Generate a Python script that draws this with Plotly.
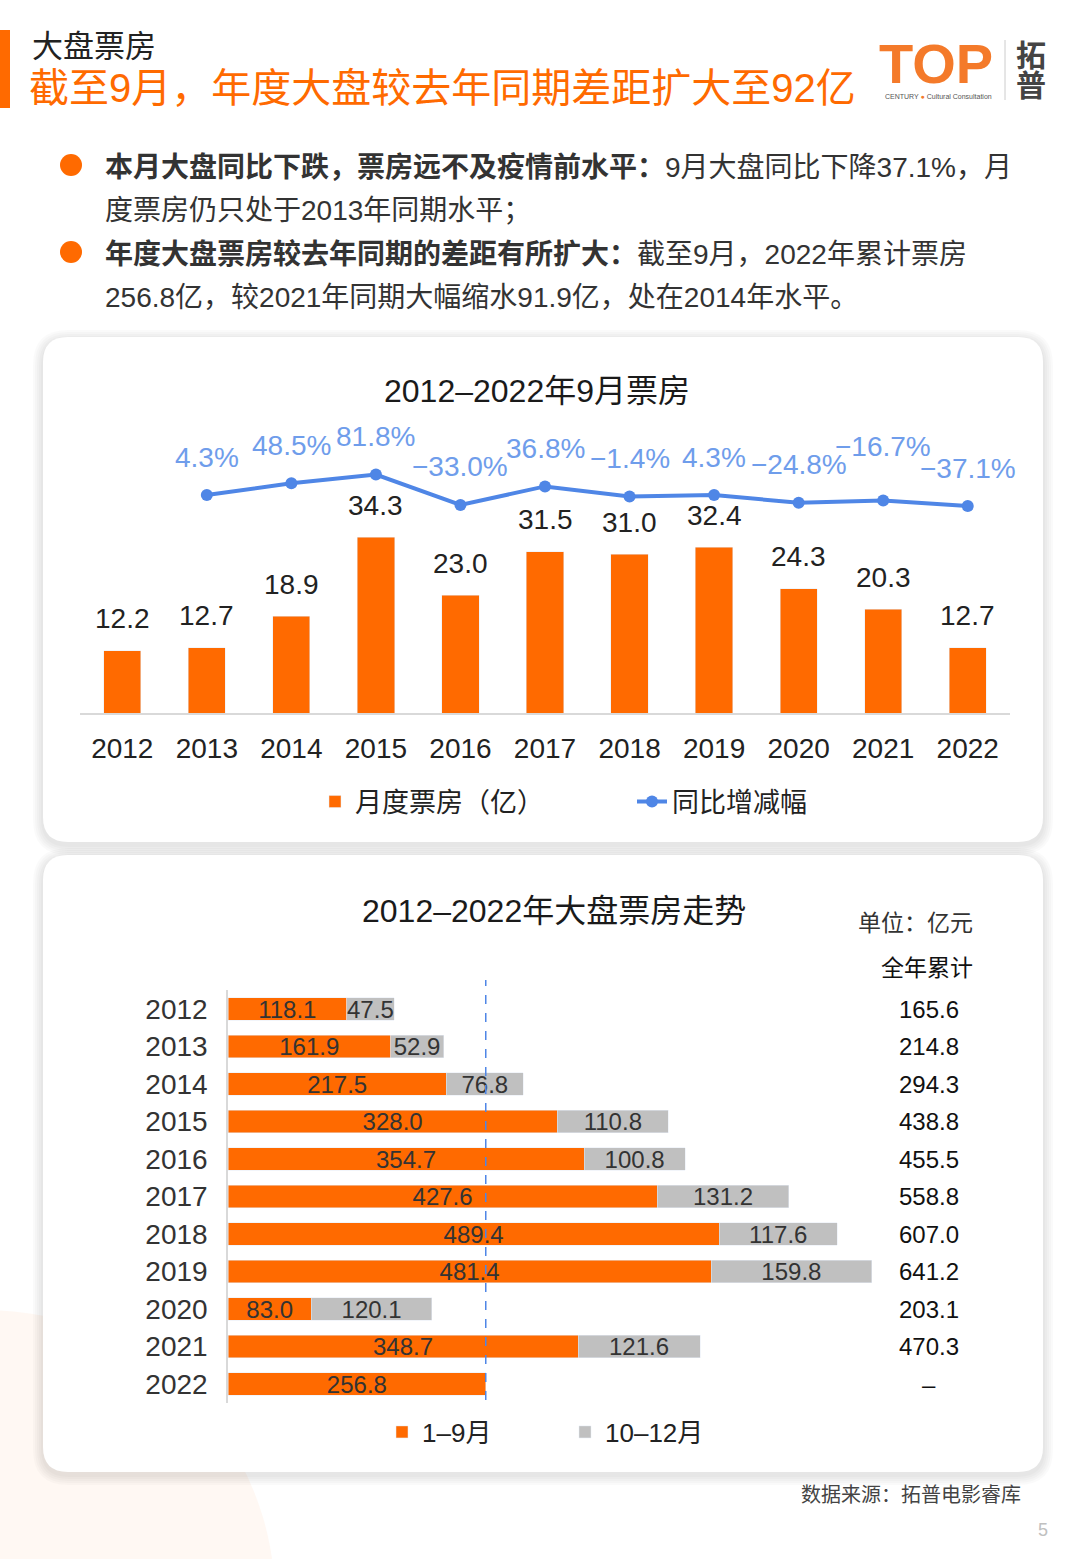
import plotly.graph_objects as go

#%% Datos
years = ['2012', '2013', '2014', '2015', '2016', '2017', '2018', '2019', '2020', '2021', '2022']
sep_box = [12.2, 12.7, 18.9, 34.3, 23.0, 31.5, 31.0, 32.4, 24.3, 20.3, 12.7]
yoy_years = years[1:]
yoy = [4.3, 48.5, 81.8, -33.0, 36.8, -1.4, 4.3, -24.8, -16.7, -37.1]

jan_sep = [118.1, 161.9, 217.5, 328.0, 354.7, 427.6, 489.4, 481.4, 83.0, 348.7, 256.8]
oct_dec = [47.5, 52.9, 76.8, 110.8, 100.8, 131.2, 117.6, 159.8, 120.1, 121.6, None]
totals = ['165.6', '214.8', '294.3', '438.8', '455.5', '558.8', '607.0', '641.2', '203.1', '470.3', '–']

#%% Estilo
W, H = 1080, 1559
ORANGE = '#FF6A00'
GRAY = '#C0C0C0'
BLUE = '#4F86E6'
BLUE_TXT = '#6F9DEB'
DARK = '#222222'
FONT = 'Liberation Sans, Noto Sans CJK SC, sans-serif'


def px(x):
    return x / W


def py(y):
    return 1 - y / H


def rrect(x0, y0, x1, y1, r):
    return (f"M {px(x0 + r)},{py(y0)} L {px(x1 - r)},{py(y0)} "
            f"Q {px(x1)},{py(y0)} {px(x1)},{py(y0 + r)} L {px(x1)},{py(y1 - r)} "
            f"Q {px(x1)},{py(y1)} {px(x1 - r)},{py(y1)} L {px(x0 + r)},{py(y1)} "
            f"Q {px(x0)},{py(y1)} {px(x0)},{py(y1 - r)} L {px(x0)},{py(y0 + r)} "
            f"Q {px(x0)},{py(y0)} {px(x0 + r)},{py(y0)} Z")


fig = go.Figure()

#%% Grafico 1: barras + linea
fig.add_trace(go.Bar(
    x=years, y=sep_box, name='月度票房（亿）',
    marker_color=ORANGE, width=0.44,
    xaxis='x', yaxis='y', legend='legend'
))
fig.add_trace(go.Scatter(
    x=yoy_years, y=yoy, name='同比增减幅', mode='lines+markers',
    line=dict(color=BLUE, width=4), marker=dict(size=12, color=BLUE),
    xaxis='x', yaxis='y2', legend='legend'
))

#%% Grafico 2: barras horizontales apiladas
fig.add_trace(go.Bar(
    x=jan_sep, y=years, orientation='h', name='1–9月',
    marker_color=ORANGE, width=0.59,
    text=[f'{v:.1f}' for v in jan_sep], textposition='inside',
    insidetextanchor='middle', textangle=0, constraintext='none',
    textfont=dict(size=24, color='#333333'),
    xaxis='x2', yaxis='y3', legend='legend2'
))
fig.add_trace(go.Bar(
    x=oct_dec, y=years, orientation='h', name='10–12月',
    marker_color=GRAY, width=0.59,
    text=[f'{v:.1f}' if v is not None else '' for v in oct_dec], textposition='inside',
    insidetextanchor='middle', textangle=0, constraintext='none',
    textfont=dict(size=24, color='#333333'),
    xaxis='x2', yaxis='y3', legend='legend2'
))

#%% Formas (tarjetas, sombras, decoracion)
shapes = []
shapes.append(dict(type='circle', xref='paper', yref='paper', layer='below',
                   x0=px(-305), x1=px(275), y0=py(1310), y1=py(1890),
                   fillcolor='rgba(255,235,220,0.35)', line_width=0))
for (y0, y1) in [(337, 842), (855, 1472)]:
    for k in range(1, 6):
        shapes.append(dict(type='path', xref='paper', yref='paper', layer='below',
                           path=rrect(43 - 2 * k, y0 - 2 * k + 3, 1043 + 2 * k, y1 + 2 * k + 3, 25 + 2 * k),
                           fillcolor='rgba(0,0,0,0.018)', line_width=0))
    shapes.append(dict(type='path', xref='paper', yref='paper', layer='below',
                       path=rrect(43, y0, 1043, y1, 25),
                       fillcolor='white', line_width=0))
# barra naranja del encabezado
shapes.append(dict(type='rect', xref='paper', yref='paper', x0=0, x1=px(10),
                   y0=py(108), y1=py(30), fillcolor=ORANGE, line_width=0))
# vinietas
for yc in [165, 252]:
    shapes.append(dict(type='circle', xref='paper', yref='paper',
                       x0=px(60), x1=px(82), y0=py(yc + 11), y1=py(yc - 11),
                       fillcolor=ORANGE, line_width=0))
# separador del logo
shapes.append(dict(type='line', xref='paper', yref='paper', x0=px(1005), x1=px(1005),
                   y0=py(100), y1=py(40), line=dict(color='#CCCCCC', width=1)))
# linea punteada 2022 (1-9月)
shapes.append(dict(type='line', xref='x2', yref='paper', x0=jan_sep[-1], x1=jan_sep[-1],
                   y0=py(1400), y1=py(980), line=dict(color=BLUE, width=1.5, dash='dash')))

#%% Anotaciones
ann = []
# encabezado
ann.append(dict(text='大盘票房', x=px(30), y=py(46), xanchor='left', yanchor='middle',
                font=dict(size=31, color=DARK)))
ann.append(dict(text='截至9月，年度大盘较去年同期差距扩大至92亿', x=px(27), y=py(88),
                xanchor='left', yanchor='middle', font=dict(size=40, color=ORANGE)))
# logo
ann.append(dict(text='<b>TOP</b>', x=px(936), y=py(64), xanchor='center', yanchor='middle',
                font=dict(size=56, color='#F47A2A', family='Liberation Sans')))
ann.append(dict(text='CENTURY <span style="color:#F47A2A">●</span> Cultural Consultation',
                x=px(938), y=py(96), xanchor='center', yanchor='middle',
                font=dict(size=7, color='#555555')))
ann.append(dict(text='<b>拓</b>', x=px(1031), y=py(55), xanchor='center', yanchor='middle',
                font=dict(size=30, color='#444444')))
ann.append(dict(text='<b>普</b>', x=px(1031), y=py(85), xanchor='center', yanchor='middle',
                font=dict(size=30, color='#444444')))
# texto de vinietas
lines = [
    '<b>本月大盘同比下跌，票房远不及疫情前水平：</b>9月大盘同比下降37.1%，月',
    '度票房仍只处于2013年同期水平；',
    '<b>年度大盘票房较去年同期的差距有所扩大：</b>截至9月，2022年累计票房',
    '256.8亿，较2021年同期大幅缩水91.9亿，处在2014年水平。',
]
for i, t in enumerate(lines):
    ann.append(dict(text=t, x=px(103), y=py(168 + 43 * i), xanchor='left', yanchor='middle',
                    font=dict(size=28, color='#333333')))
# titulos
ann.append(dict(text='2012–2022年9月票房', x=px(537), y=py(391), xanchor='center',
                yanchor='middle', font=dict(size=32, color='#1A1A1A')))
ann.append(dict(text='2012–2022年大盘票房走势', x=px(554), y=py(911), xanchor='center',
                yanchor='middle', font=dict(size=32, color='#1A1A1A')))
ann.append(dict(text='单位：亿元', x=px(975), y=py(923), xanchor='right', yanchor='middle',
                font=dict(size=23, color='#333333')))
ann.append(dict(text='全年累计', x=px(975), y=py(968), xanchor='right', yanchor='middle',
                font=dict(size=23, color='#111111')))
# etiquetas de barras (grafico 1) -- en ejes de categoria se usa el indice
for i, v in enumerate(sep_box):
    ann.append(dict(text=f'{v:.1f}', x=i, y=v, xref='x', yref='y', yshift=32,
                    showarrow=False, font=dict(size=28, color=DARK)))
# etiquetas de porcentaje
for yr, v in zip(yoy_years, yoy):
    ann.append(dict(text=f'{v:.1f}%'.replace('-', '−'), x=years.index(yr), y=v,
                    xref='x', yref='y2', yshift=54 if yr == '2021' else 38,
                    showarrow=False, font=dict(size=28, color=BLUE_TXT)))
# totales
for i, t in enumerate(totals):
    ann.append(dict(text=t, x=px(929), y=i, xref='paper', yref='y3', xanchor='center',
                    showarrow=False, font=dict(size=24, color='#111111')))
# pie
ann.append(dict(text='数据来源：拓普电影睿库', x=px(1023), y=py(1495), xanchor='right',
                yanchor='middle', font=dict(size=20, color='#444444')))
ann.append(dict(text='5', x=px(1043), y=py(1530), xanchor='center', yanchor='middle',
                font=dict(size=18, color='#C0C0C0')))

for a in ann:
    a.setdefault('xref', 'paper')
    a.setdefault('yref', 'paper')
    a.setdefault('showarrow', False)

#%% Layout
Y1_TOP = 413
fig.update_layout(
    width=W, height=H,
    margin=dict(l=0, r=0, t=0, b=0),
    paper_bgcolor='white', plot_bgcolor='rgba(0,0,0,0)',
    font=dict(family=FONT, color=DARK),
    barmode='stack',
    hovermode=False,
    shapes=shapes,
    annotations=ann,
    xaxis=dict(domain=[px(80), px(1010)], type='category', anchor='y',
               range=[-0.5, len(years) - 0.5],
               showline=True, linecolor='#D9D9D9', linewidth=2,
               showgrid=False, ticks='', tickfont=dict(size=28, color=DARK),
               ticklabelstandoff=9, fixedrange=True),
    yaxis=dict(domain=[py(713), py(Y1_TOP)], range=[0, (713 - Y1_TOP) / 5.12],
               visible=False, fixedrange=True),
    yaxis2=dict(overlaying='y', range=[-818.3, 313.9], visible=False, fixedrange=True),
    xaxis2=dict(domain=[px(228), px(228 + 803)], range=[0, 800], anchor='y3',
                visible=False, fixedrange=True),
    yaxis3=dict(domain=[py(1402.75), py(990.25)], type='category',
                categoryorder='array', categoryarray=years,
                range=[len(years) - 0.5, -0.5],
                anchor='x2', showline=True, linecolor='#D9D9D9', linewidth=1.5,
                showgrid=False, ticks='', tickfont=dict(size=28, color='#333333'),
                ticklabelstandoff=13, fixedrange=True),
    legend=dict(orientation='h', x=px(315), y=py(802), xanchor='left', yanchor='middle',
                font=dict(size=27, color=DARK), entrywidth=272, bgcolor='rgba(0,0,0,0)',
                traceorder='normal'),
    legend2=dict(orientation='h', x=px(382), y=py(1432), xanchor='left', yanchor='middle',
                 font=dict(size=26, color=DARK), entrywidth=138, bgcolor='rgba(0,0,0,0)',
                 traceorder='normal'),
)

fig.write_html("out.html", config={'displayModeBar': False},
               post_script="document.body.style.margin='0';")
